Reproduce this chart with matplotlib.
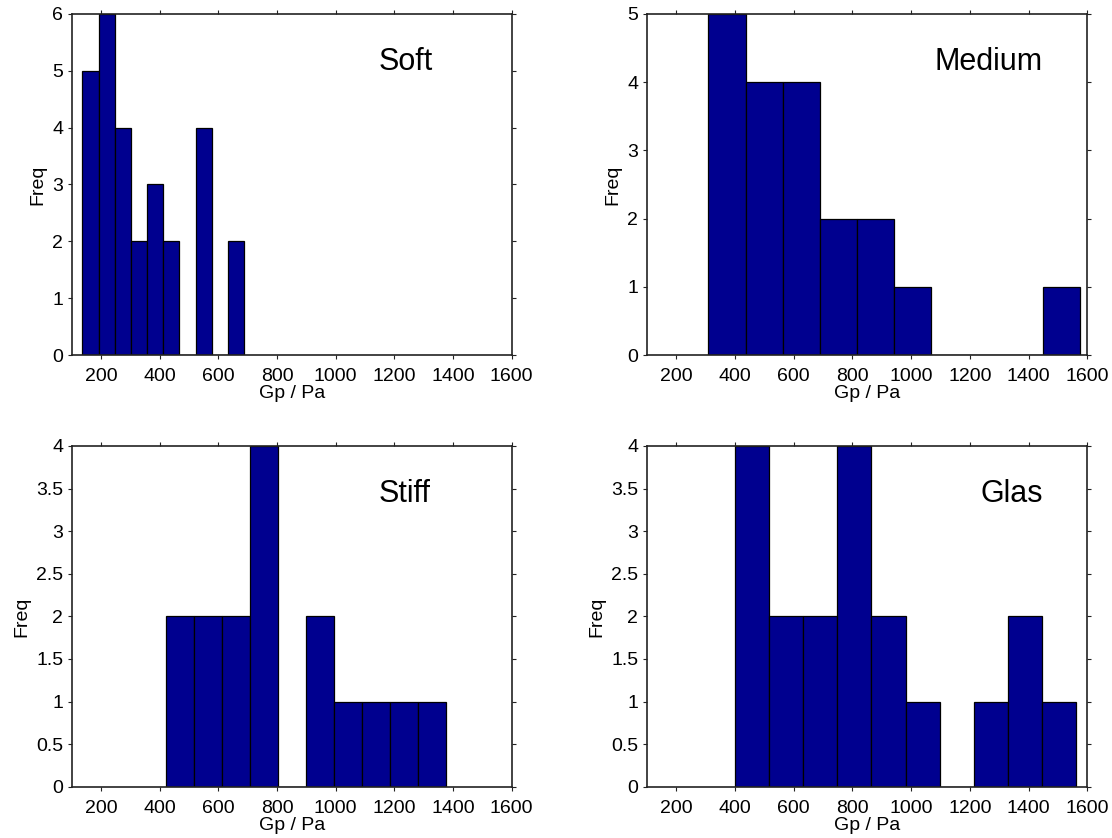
import numpy as np
import matplotlib
matplotlib.use("Agg")
import matplotlib.pyplot as plt
from matplotlib.ticker import FormatStrFormatter

plt.rcParams['font.family'] = ['Liberation Sans', 'DejaVu Sans']

# histogram data: first/last bin edge and counts per bin
labels = ["Soft", "Medium", "Stiff", "Glas"]
edge_lo = [136.4, 309.9, 420.3, 400.2]
edge_hi = [688.2, 1574.5, 1375.2, 1563.0]
soft_counts = [5, 6, 4, 2, 3, 2, 0, 4, 0, 2]
medium_counts = [5, 4, 4, 2, 2, 1, 0, 0, 0, 1]
stiff_counts = [2, 2, 2, 4, 0, 2, 1, 1, 1, 1]
glas_counts = [4, 2, 2, 4, 2, 1, 0, 1, 2, 1]
all_counts = [soft_counts, medium_counts, stiff_counts, glas_counts]

ymax = [6, 5, 4, 4]
ystep = [1, 1, 0.5, 0.5]
xticks = [200, 400, 600, 800, 1000, 1200, 1400, 1600]

W, H = 1112, 838
fig = plt.figure(figsize=(W / 100, H / 100), dpi=100)

# axes boxes in pixels: left, top, right, bottom
boxes = [(71.7, 14, 511.7, 355), (646.7, 14, 1087.3, 355),
         (71.7, 446, 511.7, 786.7), (646.7, 446, 1087.3, 786.7)]
text_pos = [(0.697, 'left'), (0.899, 'right'), (0.697, 'left'), (0.899, 'right')]

bar_color = (0, 0, 0.5625)

for i, (l, t, r, b) in enumerate(boxes):
    ax = fig.add_axes([l / W, 1 - b / H, (r - l) / W, (b - t) / H])
    edges = np.linspace(edge_lo[i], edge_hi[i], len(all_counts[i]) + 1)
    ax.bar(edges[:-1], all_counts[i], width=np.diff(edges), align='edge',
           color=bar_color, edgecolor='black', linewidth=0.9)
    ax.set_xlim(100, 1600)
    ax.set_ylim(0, ymax[i])
    ax.set_xticks(xticks)
    ax.set_yticks(np.arange(0, ymax[i] + 0.01, ystep[i]))
    ax.yaxis.set_major_formatter(FormatStrFormatter('%g'))
    ax.tick_params(direction='out', length=3, width=0.8, labelsize=14,
                   top=True, right=True, colors='#222222', labelcolor='black')
    ax.tick_params(axis='x', pad=6.5)
    ax.tick_params(axis='y', pad=3)
    for s in ax.spines.values():
        s.set_linewidth(1.2)
        s.set_color('#222222')
    ax.set_xlabel("Gp / Pa", fontsize=14, labelpad=0)
    ax.set_ylabel("Freq", fontsize=14, labelpad=4)
    tx, ha = text_pos[i]
    ax.text(tx, 0.837, labels[i], transform=ax.transAxes, fontsize=22,
            ha=ha, va='baseline')

fig.savefig("out.png", dpi=100)
